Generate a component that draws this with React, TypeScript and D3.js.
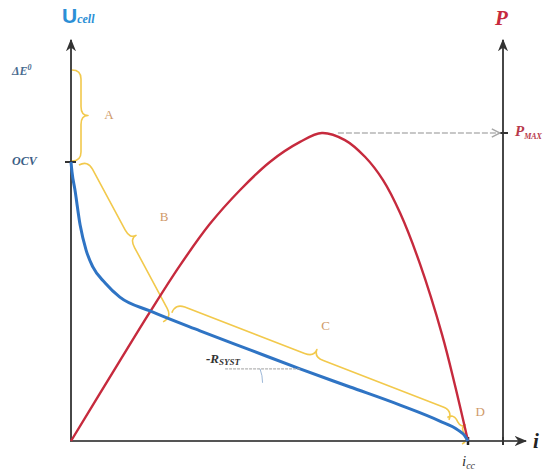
import React from "react";
import * as d3 from "d3";

const W = 553;
const H = 471;

// Current normalised to the short-circuit current i_cc
const iCell = [0, 0.0025, 0.01, 0.023, 0.038, 0.055, 0.086, 0.123, 0.199, 0.325, 0.451, 0.577, 0.703, 0.829, 0.929, 0.975, 0.992, 1];
// Cell voltage (V)
const uCell = [0.925, 0.892, 0.832, 0.716, 0.633, 0.577, 0.524, 0.477, 0.431, 0.365, 0.302, 0.239, 0.179, 0.119, 0.066, 0.036, 0.017, 0];

// Power curve, normalised to P_MAX
const iPower = [0, 0.123, 0.199, 0.275, 0.35, 0.426, 0.501, 0.577, 0.632, 0.69, 0.741, 0.786, 0.829, 0.879, 0.935, 0.967, 1];
const power = [0, 0.26, 0.419, 0.571, 0.705, 0.815, 0.906, 0.971, 1, 0.977, 0.922, 0.847, 0.74, 0.575, 0.344, 0.182, 0];

// Reference levels
const DELTA_E0 = 1.23;
const OCV = 0.925;
const P_MAX = 1;
const I_CC = 1;
const I_PMAX = 0.632;

// Loss regions: [label, i start, U start, i end, U end]
const lossBraces: [string, number, number, number, number][] = [
  ["A", 0.0, 1.23, 0.0, 0.928],
  ["B", 0.02, 0.915, 0.232, 0.395],
  ["C", 0.254, 0.425, 0.952, 0.07],
  ["D", 0.948, 0.078, 0.985, -0.01],
];

const x = d3.scaleLinear().domain([0, I_CC]).range([71, 468]);
const yU = d3.scaleLinear().domain([0, DELTA_E0]).range([441, 70]);
const yP = d3.scaleLinear().domain([0, P_MAX]).range([441, 133]);

const axisLeft = 71;
const axisRight = 503;
const axisBottom = 441;
const axisTop = 40;
const axisEnd = 526;

function bracePath(x1: number, y1: number, x2: number, y2: number, w: number, tip: number) {
  const len = Math.hypot(x2 - x1, y2 - y1);
  const tx = (x2 - x1) / len;
  const ty = (y2 - y1) / len;
  const nx = ty;
  const ny = -tx;
  const r = Math.min(w, len / 5);
  const mx = (x1 + x2) / 2 + nx * w;
  const my = (y1 + y2) / 2 + ny * w;
  const p = (a: number, b: number) => `${a.toFixed(2)},${b.toFixed(2)}`;
  return [
    `M${p(x1, y1)}`,
    `Q${p(x1 + nx * w, y1 + ny * w)} ${p(x1 + nx * w + tx * r, y1 + ny * w + ty * r)}`,
    `L${p(mx - tx * r, my - ty * r)}`,
    `Q${p(mx, my)} ${p(mx + nx * tip, my + ny * tip)}`,
    `Q${p(mx, my)} ${p(mx + tx * r, my + ty * r)}`,
    `L${p(x2 + nx * w - tx * r, y2 + ny * w - ty * r)}`,
    `Q${p(x2 + nx * w, y2 + ny * w)} ${p(x2, y2)}`,
  ].join(" ");
}

const braceTip = (x1: number, y1: number, x2: number, y2: number, d: number) => {
  const len = Math.hypot(x2 - x1, y2 - y1);
  const nx = (y2 - y1) / len;
  const ny = -(x2 - x1) / len;
  return [(x1 + x2) / 2 + nx * d, (y1 + y2) / 2 + ny * d];
};

export default function App() {
  const uLine = d3
    .line<number>()
    .x((d) => x(d))
    .y((_, k) => yU(uCell[k]))
    .curve(d3.curveMonotoneX);
  const pLine = d3
    .line<number>()
    .x((d) => x(d))
    .y((_, k) => yP(power[k]))
    .curve(d3.curveCatmullRom.alpha(0.5));

  // slope marker on the ohmic part of the polarisation curve
  const v = 11;
  const vx = x(iCell[v]);
  const vy = yU(uCell[v]);
  const ang = Math.atan2(yU(uCell[v - 1]) - yU(uCell[v + 1]), x(iCell[v + 1]) - x(iCell[v - 1]));
  const rArc = 40;
  const arcPath = `M${vx - rArc},${vy} A${rArc},${rArc} 0 0 1 ${vx - rArc * Math.cos(ang)},${vy - rArc * Math.sin(ang)}`;

  const serif = "'Liberation Serif', 'DejaVu Serif', serif";
  const sans = "'Liberation Sans', Arial, sans-serif";
  const braceColor = "#f2c94c";
  const braceText = "#cf9a6a";

  const braceSpecs = [
    { w: 9, tip: 7, lx: 21, ly: 0 },
    { w: 10, tip: 7, lx: 32, ly: -2 },
    { w: 10, tip: 8, lx: 24, ly: 0 },
    { w: 7, tip: 5, lx: 17, ly: -4 },
  ];

  return (
    <svg
      width={W}
      height={H}
      viewBox={`0 0 ${W} ${H}`}
      style={{ position: "absolute", left: 0, top: 0, background: "#fff" }}
    >
      <defs>
        <marker id="axArrow" viewBox="0 0 10 10" refX="9" refY="5" markerWidth="7" markerHeight="7" orient="auto">
          <path d="M0,1 L10,5 L0,9 L3,5 Z" fill="#333" />
        </marker>
        <marker id="openArrow" viewBox="0 0 10 10" refX="9" refY="5" markerWidth="9" markerHeight="9" orient="auto">
          <path d="M2,1.5 L9,5 L2,8.5" fill="none" stroke="#a8a8a8" strokeWidth="1.3" />
        </marker>
      </defs>

      {/* loss braces */}
      {lossBraces.map(([label, i1, u1, i2, u2], k) => {
        const s = braceSpecs[k];
        const X1 = x(i1) + (k === 0 ? 1 : 0);
        const Y1 = yU(u1);
        const X2 = x(i2) + (k === 0 ? 1 : 0);
        const Y2 = yU(u2);
        const [tx, ty] = braceTip(X1, Y1, X2, Y2, s.w + s.tip + s.lx);
        return (
          <g key={label}>
            <path d={bracePath(X1, Y1, X2, Y2, s.w, s.tip)} fill="none" stroke={braceColor} strokeWidth={1.6} strokeLinejoin="round" />
            <text x={tx} y={ty + s.ly} fontFamily={serif} fontSize={13} fill={braceText} textAnchor="middle" dominantBaseline="middle">
              {label}
            </text>
          </g>
        );
      })}

      {/* axes */}
      <line x1={axisLeft} y1={axisBottom + 1} x2={axisLeft} y2={axisTop} stroke="#333" strokeWidth={1.8} markerEnd="url(#axArrow)" />
      <line x1={axisRight} y1={axisBottom + 1} x2={axisRight} y2={axisTop} stroke="#333" strokeWidth={1.8} markerEnd="url(#axArrow)" />
      <line x1={axisLeft - 1} y1={axisBottom} x2={axisEnd} y2={axisBottom} stroke="#555" strokeWidth={1.8} markerEnd="url(#axArrow)" />

      {/* ticks */}
      <line x1={axisLeft - 6} x2={axisLeft + 5} y1={yU(OCV)} y2={yU(OCV)} stroke="#333" strokeWidth={2} />
      <line x1={axisRight - 5} x2={axisRight + 5} y1={yP(P_MAX)} y2={yP(P_MAX)} stroke="#333" strokeWidth={2} />
      <line x1={x(I_CC)} x2={x(I_CC)} y1={axisBottom - 4} y2={axisBottom + 4} stroke="#222" strokeWidth={2.5} />
      <line x1={axisRight} x2={axisRight} y1={axisBottom - 4} y2={axisBottom + 4} stroke="#333" strokeWidth={2} />

      {/* P_MAX guide */}
      <line
        x1={x(I_PMAX) + 16}
        y1={yP(P_MAX)}
        x2={axisRight - 3}
        y2={yP(P_MAX)}
        stroke="#b5b5b5"
        strokeWidth={1.3}
        strokeDasharray="6 2"
        markerEnd="url(#openArrow)"
      />

      {/* curves */}
      <path d={pLine(iPower) ?? ""} fill="none" stroke="#c62a3d" strokeWidth={2.4} />
      <path d={uLine(iCell) ?? ""} fill="none" stroke="#2f74c4" strokeWidth={3} />

      {/* -R_SYST slope marker */}
      <line x1={vx - 75} y1={vy} x2={vx} y2={vy} stroke="#a0a0a0" strokeWidth={1} strokeDasharray="3 1" />
      <path d={arcPath} fill="none" stroke="#9db8d8" strokeWidth={1} />
      <text x={206} y={vy - 6} fontFamily={serif} fontStyle="italic" fontWeight="bold" fill="#333" fontSize={13}>
        -R
        <tspan fontSize={9} dy={2}>SYST</tspan>
      </text>

      {/* axis labels */}
      <text x={62} y={23} fontFamily={sans} fontWeight="bold" fontSize={21} fill="#2b8fd6">
        U
        <tspan fontFamily={serif} fontStyle="italic" fontSize={12} dy={0}>cell</tspan>
      </text>
      <text x={495} y={25} fontFamily={serif} fontStyle="italic" fontWeight="bold" fontSize={21} fill="#c62a3d">
        P
      </text>
      <text x={533} y={448} fontFamily={serif} fontStyle="italic" fontWeight="bold" fontSize={21} fill="#222">
        i
      </text>
      <text x={x(I_CC) - 6} y={466} fontFamily={serif} fontStyle="italic" fontSize={15} fill="#333">
        i
        <tspan fontSize={10} dy={3}>cc</tspan>
      </text>
      <text x={12} y={yU(DELTA_E0) + 5} fontFamily={serif} fontStyle="italic" fontWeight="bold" fontSize={12} fill="#4a6b90">
        ΔE
        <tspan fontSize={8} dy={-5}>0</tspan>
      </text>
      <text x={12} y={yU(OCV) + 3} fontFamily={serif} fontStyle="italic" fontWeight="bold" fontSize={12} fill="#3b5e86">
        OCV
      </text>
      <text x={515} y={yP(P_MAX) + 3} fontFamily={serif} fontStyle="italic" fontWeight="bold" fontSize={15} fill="#b8394a">
        P
        <tspan fontSize={8} dy={3}>MAX</tspan>
      </text>
    </svg>
  );
}
